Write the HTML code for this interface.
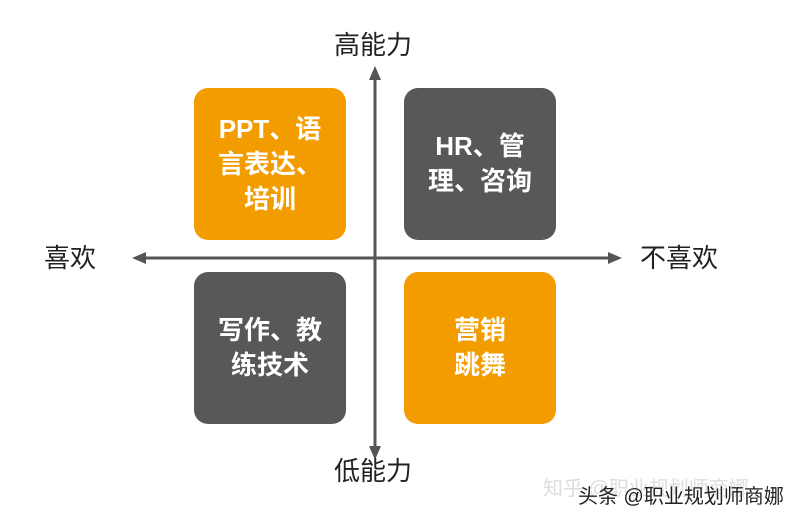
<!DOCTYPE html>
<html><head><meta charset="utf-8"><style>
body{margin:0;width:801px;height:517px;background:#fff;position:relative;overflow:hidden;font-family:"Liberation Sans","Noto Sans CJK SC",sans-serif}
.b{position:absolute;width:152px;height:152px;border-radius:14px;color:#fff;font-weight:bold;font-size:26px;line-height:35px;display:flex;align-items:center;justify-content:center;text-align:center}
.o{background:#F39C00}.d{background:#58585A}
.l{position:absolute;font-size:26px;color:#222;line-height:30px}
</style></head><body>
<svg width="801" height="517" style="position:absolute;left:0;top:0">
<line x1="375" y1="76" x2="375" y2="450" stroke="#555" stroke-width="3"/>
<polygon points="375,66 369,80 381,80" fill="#555"/>
<polygon points="375,460 369,446 381,446" fill="#555"/>
<line x1="142" y1="258" x2="612" y2="258" stroke="#555" stroke-width="3"/>
<polygon points="132,258 146,252 146,264" fill="#555"/>
<polygon points="622,258 608,252 608,264" fill="#555"/>
</svg>
<div class="b o" style="left:194px;top:88px">PPT、语<br>言表达、<br>培训</div>
<div class="b d" style="left:404px;top:88px">HR、管<br>理、咨询</div>
<div class="b d" style="left:194px;top:272px">写作、教<br>练技术</div>
<div class="b o" style="left:404px;top:272px">营销<br>跳舞</div>
<div class="l" style="left:334px;top:30px">高能力</div>
<div class="l" style="left:334px;top:456px">低能力</div>
<div class="l" style="left:44px;top:243px">喜欢</div>
<div class="l" style="left:640px;top:243px">不喜欢</div>
<div style="position:absolute;left:543px;top:472px;font-size:20px;color:#ddd">知乎 @职业规划师商娜</div>
<div style="position:absolute;left:578px;top:480px;font-size:20px;color:#222;text-shadow:1px 1px 0 #fff">头条 @职业规划师商娜</div>
</body></html>
